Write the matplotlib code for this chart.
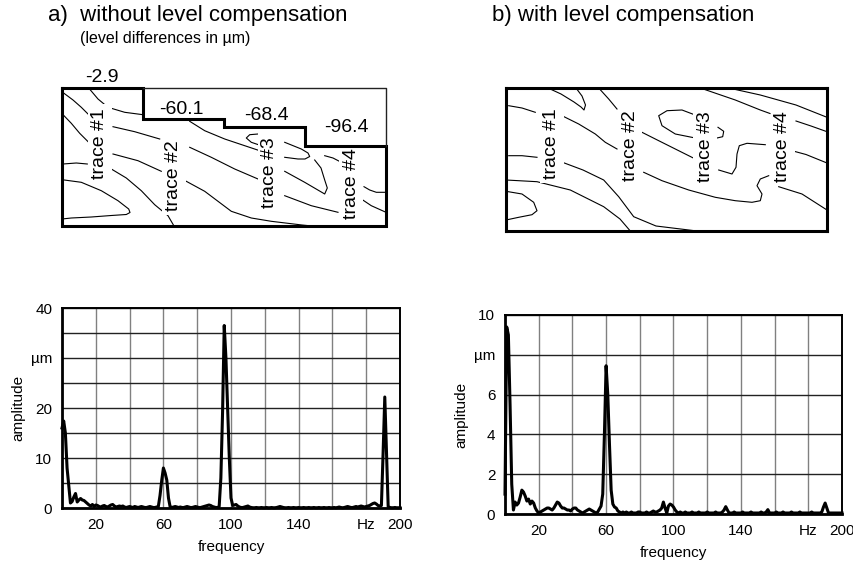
import numpy as np
import matplotlib
matplotlib.use("Agg")
import matplotlib.pyplot as plt

plt.rcParams['font.family'] = ['Liberation Sans', 'DejaVu Sans']

# ---- spectrum data (1 Hz steps, 0..200 Hz) ----
freq = np.arange(0, 201)

amp_a = [
    16, 17.4, 15, 8, 4.5, 1.0, 1.3, 2.2, 2.9, 1.2,
    1.6, 1.9, 1.6, 1.5, 1.2, 0.9, 0.6, 0.4, 0.7, 0.3,
    0.6, 0.5, 0.3, 0.2, 0.4, 0.5, 0.3, 0.2, 0.4, 0.6,
    0.7, 0.4, 0.2, 0.3, 0.4, 0.3, 0.4, 0.2, 0.1, 0.2,
    0.3, 0.2, 0.1, 0.3, 0.2, 0.1, 0.2, 0.3, 0.2, 0.1,
    0.1, 0.2, 0.3, 0.2, 0.1, 0.1, 0.2, 0.3, 2.5, 5.5,
    8.0, 7.0, 5.6, 2.0, 0.2, 0.1, 0.2, 0.3, 0.2, 0.1,
    0.2, 0.1, 0.1, 0.2, 0.3, 0.2, 0.1, 0.1, 0.2, 0.3,
    0.2, 0.1, 0.1, 0.2, 0.3, 0.4, 0.5, 0.6, 0.5, 0.3,
    0.2, 0.1, 0.1, 0.3, 6, 19, 36.5, 30, 20, 10,
    2.0, 0.5, 0.6, 0.7, 0.4, 0.2, 0.1, 0.1, 0.2, 0.3,
    0.4, 0.2, 0.1, 0.05, 0.05, 0.1, 0.05, 0.05, 0.1, 0.05,
    0.05, 0.1, 0.05, 0.05, 0.1, 0.05, 0.05, 0.1, 0.2, 0.3,
    0.2, 0.1, 0.05, 0.05, 0.1, 0.05, 0.05, 0.1, 0.05, 0.05,
    0.1, 0.05, 0.05, 0.1, 0.05, 0.05, 0.1, 0.05, 0.05, 0.1,
    0.05, 0.05, 0.1, 0.05, 0.05, 0.1, 0.05, 0.05, 0.1, 0.05,
    0.05, 0.1, 0.05, 0.1, 0.2, 0.1, 0.05, 0.1, 0.2, 0.3,
    0.2, 0.1, 0.1, 0.2, 0.3, 0.2, 0.3, 0.4, 0.3, 0.2,
    0.3, 0.4, 0.5, 0.7, 0.9, 1.0, 0.8, 0.5, 0.4, 0.5,
    11, 22.2, 11, 0.3, 0.1, 0.05, 0.05, 0.1, 0.05, 0.05,
    0.05,
]

amp_b = [
    1.0, 9.4, 9.0, 5.5, 1.5, 0.2, 0.6, 0.45, 0.55, 0.85,
    1.2, 1.1, 0.9, 0.65, 0.75, 0.5, 0.65, 0.55, 0.3, 0.15,
    0.05, 0.1, 0.15, 0.2, 0.25, 0.3, 0.3, 0.25, 0.2, 0.3,
    0.45, 0.6, 0.55, 0.4, 0.3, 0.3, 0.25, 0.2, 0.2, 0.15,
    0.25, 0.3, 0.3, 0.2, 0.15, 0.1, 0.05, 0.1, 0.15, 0.2,
    0.25, 0.2, 0.15, 0.1, 0.05, 0.1, 0.25, 0.4, 1.0, 4.0,
    7.45, 6.0, 3.5, 1.2, 0.5, 0.35, 0.3, 0.15, 0.1, 0.05,
    0.1, 0.05, 0.1, 0.05, 0.05, 0.1, 0.05, 0.05, 0.05, 0.1,
    0.1, 0.05, 0.05, 0.05, 0.1, 0.05, 0.05, 0.1, 0.15, 0.1,
    0.1, 0.15, 0.2, 0.3, 0.6, 0.3, 0.05, 0.4, 0.5, 0.45,
    0.35, 0.2, 0.1, 0.05, 0.1, 0.05, 0.05, 0.1, 0.05, 0.05,
    0.05, 0.1, 0.05, 0.05, 0.05, 0.1, 0.05, 0.05, 0.05, 0.05,
    0.1, 0.05, 0.05, 0.05, 0.05, 0.1, 0.05, 0.05, 0.05, 0.1,
    0.2, 0.37, 0.2, 0.05, 0.05, 0.05, 0.1, 0.05, 0.05, 0.05,
    0.05, 0.1, 0.05, 0.05, 0.05, 0.05, 0.1, 0.05, 0.05, 0.05,
    0.05, 0.05, 0.1, 0.05, 0.05, 0.1, 0.22, 0.05, 0.05, 0.05,
    0.05, 0.1, 0.05, 0.05, 0.05, 0.1, 0.05, 0.05, 0.05, 0.05,
    0.1, 0.05, 0.05, 0.05, 0.05, 0.1, 0.05, 0.05, 0.05, 0.05,
    0.05, 0.05, 0.1, 0.05, 0.05, 0.05, 0.05, 0.05, 0.1, 0.35,
    0.55, 0.3, 0.05, 0.05, 0.05, 0.05, 0.05, 0.05, 0.05, 0.05,
    0.05,
]

xtick_vals = [0, 20, 40, 60, 80, 100, 120, 140, 160, 180, 200]
xtick_labels = ['', '20', '', '60', '', '100', '', '140', '', 'Hz', '200']
ytick_vals_a = [0, 5, 10, 15, 20, 25, 30, 35, 40]
ytick_labels_a = ['0', '', '10', '', '20', '', 'µm', '', '40']
ytick_vals_b = [0, 2, 4, 6, 8, 10]
ytick_labels_b = ['0', '2', '4', '6', 'µm', '10']

# ---- trace map data (box units) ----
trace_edges_a = [0, 81, 162, 243, 324]
level_tops_a = [0, 31, 38.7, 57.7]
level_labels = ['-2.9', '-60.1', '-68.4', '-96.4']
trace_names = ['trace #1', 'trace #2', 'trace #3', 'trace #4']

contours_a = [
    [(2, 5.3), (11, 12), (19.3, 19.3), (26.7, 26.7)],
    [(2, 27.7), (9.3, 35.3), (17.7, 45.3), (26.7, 54.3)],
    [(1, 76), (14.3, 75), (25.3, 76)],
    [(0, 91.7), (19.3, 94.3), (39.3, 102.7), (56, 112.7), (66.7, 121), (68, 124.5),
     (64.3, 126.5), (49.3, 127.5), (29.3, 129), (9.3, 130), (0, 131)],
    [(26.7, 0), (36, 11), (46, 19.3), (62.7, 24.3), (81, 26.7)],
    [(51, 38.7), (72.7, 43.7), (97.7, 51)],
    [(51, 66), (76, 72.7), (99.3, 83.3)],
    [(49.3, 81), (64.3, 90), (79.3, 102.7), (92.7, 116.7), (106, 127.7), (112, 138)],
    [(127.7, 33.3), (142.7, 42.7), (162.7, 51), (182.7, 57.7), (197.7, 62.7)],
    [(127.7, 59.3), (149.3, 69.3), (172.7, 81), (196, 91)],
    [(124.3, 93.3), (142.7, 103.3), (156, 113.3), (169.3, 123.3), (189.3, 130),
     (209.3, 133.3), (240, 137), (250, 138)],
    [(196, 46), (187.7, 46.7), (184.3, 50), (189.3, 54.3), (199.3, 57.7)],
    [(222.7, 54.3), (239.3, 61), (246, 65), (247.7, 68.5), (243, 71), (236, 71),
     (222.7, 69.3)],
    [(222.7, 83.3), (242.7, 94.3), (262.7, 106), (265.3, 100), (262.7, 92),
     (259, 80), (252.7, 72)],
    [(222.7, 107.7), (249.3, 117.7), (276, 124.3)],
    [(262.7, 67.7), (271, 70), (279.3, 74.3)],
    [(302, 98.7), (307.7, 102), (314.3, 104.3), (324, 104.3)],
    [(299.3, 111), (309.3, 117.7), (324, 124.3)],
]
label_pos_a = [(40, -11), (119.3, 21), (204.3, 27.7), (284.3, 39.3)]
trace_pos_a = [(37.7, 55.3), (112, 87.7), (207.7, 84.3), (289.3, 95.3)]

contours_b = [
    [(2.7, 17.7), (16, 20), (29.3, 24.3)],
    [(2.7, 67.7), (16, 67.7), (31, 69.3)],
    [(0, 92), (31, 93.7), (64.3, 102), (97.7, 118.7), (114, 131), (124.3, 143)],
    [(0, 103.3), (16, 106), (27.7, 114.3), (31, 122.7), (26, 126.7), (12.7, 129.3),
     (0, 132)],
    [(42, 0), (55, 6), (68, 14), (75, 19), (78, 22), (79.5, 17), (76, 8), (70, 0)],
    [(92.7, 0), (102.7, 11), (111, 21)],
    [(56, 27.7), (72.7, 36), (89.3, 46), (99.3, 54.3), (111, 61)],
    [(57, 74.5), (77, 82), (97.7, 92), (112.7, 108.7), (127.7, 128.7), (150, 138),
     (191, 143)],
    [(137.7, 84.3), (156, 92.7), (182.7, 102), (209.3, 109.3), (229.3, 112.7),
     (246, 114.3), (254.3, 112.7), (256, 106), (251, 97.7), (254.3, 91),
     (262.7, 87.7)],
    [(136, 44.3), (152.7, 52.7), (172.7, 62.7), (189.3, 71)],
    [(191, 27.7), (176, 22), (161, 22.7), (152.7, 27.7), (156, 37.7), (169.3, 46),
     (189.3, 50)],
    [(212, 39.3), (217.7, 43.3), (216.7, 48.7), (211, 50)],
    [(212.7, 82), (226, 86), (230, 79.3), (231, 66), (233.3, 57.7), (241, 55.3),
     (259.3, 56.7)],
    [(194.3, 0), (229.3, 12), (254.3, 22), (264, 25.5)],
    [(290, 33), (305, 38), (321, 43.7)],
    [(222.7, 0), (254.3, 7), (290, 17), (321, 29.3)],
    [(287, 63), (300, 66.5), (321, 75)],
    [(272.7, 98.7), (296, 106), (321, 122)],
]
trace_pos_b = [(46, 56), (124.3, 57.7), (199.3, 58.3), (277, 58.3)]

W = 854
H = 572
fig = plt.figure(figsize=(W / 100, H / 100), dpi=100)

mask = dict(facecolor='white', edgecolor='none', pad=2.5)


def fr(left, top, right, bottom):
    return [left / W, 1 - bottom / H, (right - left) / W, (bottom - top) / H]


# ---------- top left: without compensation ----------
ax1 = fig.add_axes(fr(62, 88, 386, 226))
box_w_a, box_h_a = 324, 138
ax1.set_xlim(0, box_w_a)
ax1.set_ylim(box_h_a, 0)
ax1.axis('off')
for line in contours_a:
    pts = np.array(line)
    ax1.plot(pts[:, 0], pts[:, 1], color='black', lw=0.8, zorder=1)

step_x = [trace_edges_a[0]]
step_y = [level_tops_a[0]]
for i in range(4):
    step_x += [trace_edges_a[i], trace_edges_a[i + 1]]
    step_y += [level_tops_a[i], level_tops_a[i]]
step_x += [box_w_a, 0, 0]
step_y += [box_h_a, box_h_a, 0]
ax1.plot(step_x, step_y, color='black', lw=2.2, clip_on=False,
         solid_joinstyle='miter', zorder=4)
ax1.plot([trace_edges_a[1], box_w_a, box_w_a], [0, 0, level_tops_a[3]],
         color='#222222', lw=1.0, clip_on=False, zorder=4)

for txt, (u, v) in zip(level_labels, label_pos_a):
    ax1.text(u, v, txt, fontsize=14, ha='center', va='center', clip_on=False)
for txt, (u, v) in zip(trace_names, trace_pos_a):
    ax1.text(u, v, txt, fontsize=14, ha='center', va='center', rotation=90,
             bbox=mask, zorder=3)

# ---------- top right: with compensation ----------
ax2 = fig.add_axes(fr(506, 88, 827, 231))
box_w_b, box_h_b = 321, 143
ax2.set_xlim(0, box_w_b)
ax2.set_ylim(box_h_b, 0)
ax2.set_xticks([])
ax2.set_yticks([])
for s in ax2.spines.values():
    s.set_linewidth(2.2)
for line in contours_b:
    pts = np.array(line)
    ax2.plot(pts[:, 0], pts[:, 1], color='black', lw=0.8, zorder=1)
for txt, (u, v) in zip(trace_names, trace_pos_b):
    ax2.text(u, v, txt, fontsize=14, ha='center', va='center', rotation=90,
             bbox=mask, zorder=3)

fig.text(48 / W, 1 - 15 / H, 'a)  without level compensation', fontsize=16,
         ha='left', va='center')
fig.text(80 / W, 1 - 38 / H, '(level differences in µm)', fontsize=11.5,
         ha='left', va='center')
fig.text(492 / W, 1 - 15 / H, 'b) with level compensation', fontsize=16,
         ha='left', va='center')


# ---------- spectra ----------
def spectrum(ax, amp, ymax, yvals, ylabels):
    ax.plot(freq, amp, color='black', lw=2.2, clip_on=False, zorder=3)
    ax.set_xlim(0, 200)
    ax.set_ylim(0, ymax)
    ax.set_xticks(xtick_vals)
    ax.set_xticklabels(xtick_labels, fontsize=11)
    ax.set_yticks(yvals)
    ax.set_yticklabels(ylabels, fontsize=11)
    ax.tick_params(length=0, pad=7)
    ax.xaxis.grid(True, color='#808080', lw=1.0)
    ax.yaxis.grid(True, color='#222222', lw=1.0)
    ax.set_axisbelow(True)
    for s in ax.spines.values():
        s.set_linewidth(1.4)
    ax.spines['left'].set_linewidth(2.0)
    ax.spines['bottom'].set_linewidth(2.0)
    ax.set_xlabel('frequency', fontsize=11, labelpad=6)
    ax.set_ylabel('amplitude', fontsize=11, labelpad=4)


ax3 = fig.add_axes(fr(62, 308, 400, 508))
spectrum(ax3, amp_a, 40, ytick_vals_a, ytick_labels_a)

ax4 = fig.add_axes(fr(505, 315, 842, 514))
spectrum(ax4, amp_b, 10, ytick_vals_b, ytick_labels_b)

fig.savefig('out.png', dpi=100)
